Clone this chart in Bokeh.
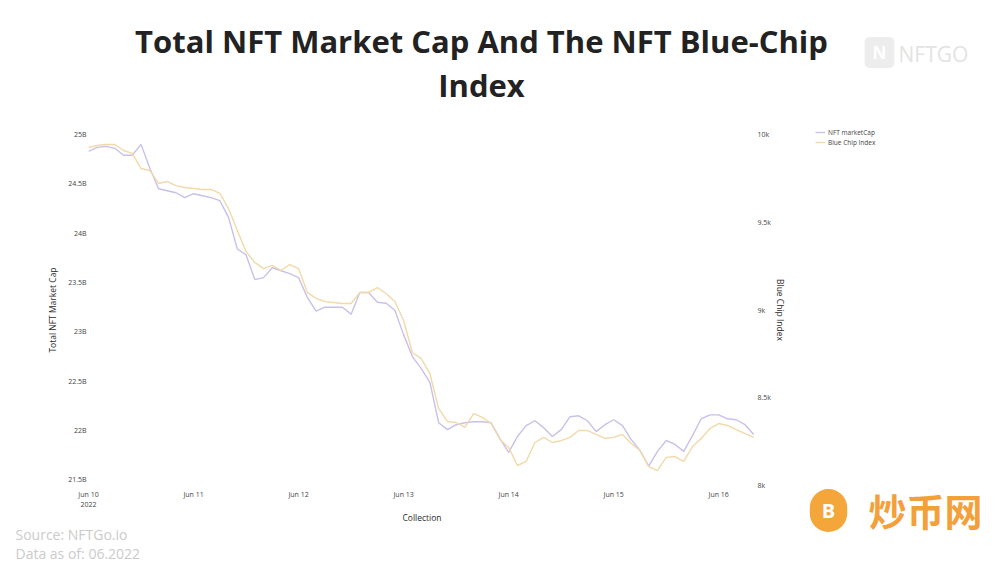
from bokeh.plotting import figure
from bokeh.layouts import column, row
from bokeh.models import (Range1d, LinearAxis, FixedTicker, CustomJSTickFormatter,
                          Label, Legend, LegendItem, Title)
from bokeh.embed import file_html
from bokeh.resources import INLINE

# ---- data -------------------------------------------------------------
hours = list(range(0, 153, 2))  # hours since Jun 10 2022 00:00, 2-hour steps

market_cap_b = [24.83, 24.87, 24.88, 24.86, 24.79, 24.79, 24.90, 24.66, 24.45, 24.43,
                24.41, 24.36, 24.40, 24.38, 24.36, 24.33, 24.16, 23.84, 23.78, 23.53,
                23.55, 23.65, 23.62, 23.59, 23.55, 23.35, 23.21, 23.25, 23.25, 23.25,
                23.18, 23.40, 23.40, 23.30, 23.29, 23.22, 22.97, 22.75, 22.63, 22.49,
                22.08, 22.01, 22.06, 22.08, 22.09, 22.09, 22.08, 21.92, 21.78, 21.94,
                22.05, 22.10, 22.03, 21.94, 22.01, 22.14, 22.15, 22.10, 21.99, 22.06,
                22.11, 22.05, 21.91, 21.80, 21.64, 21.79, 21.90, 21.86, 21.79, 21.95,
                22.12, 22.16, 22.16, 22.12, 22.11, 22.06, 21.96]

blue_chip_index = [9926, 9937, 9943, 9943, 9909, 9892, 9806, 9795, 9721, 9732,
                   9709, 9698, 9692, 9687, 9687, 9664, 9578, 9453, 9333, 9271,
                   9236, 9254, 9225, 9259, 9236, 9100, 9066, 9048, 9043, 9037,
                   9037, 9100, 9100, 9128, 9094, 9048, 8940, 8758, 8724, 8638,
                   8439, 8365, 8359, 8331, 8410, 8388, 8353, 8262, 8217, 8114,
                   8137, 8245, 8274, 8245, 8256, 8274, 8313, 8313, 8291, 8268,
                   8274, 8291, 8239, 8199, 8108, 8085, 8160, 8165, 8137, 8222,
                   8268, 8325, 8353, 8342, 8319, 8296, 8274]

series_names = ["NFT marketCap", "Blue Chip Index"]
x_ticks = [0, 24, 48, 72, 96, 120, 144]
x_tick_labels = ["Jun 10\n2022", "Jun 11", "Jun 12", "Jun 13", "Jun 14", "Jun 15", "Jun 16"]
left_ticks = [21.5, 22, 22.5, 23, 23.5, 24, 24.5, 25]
right_ticks = [8000, 8500, 9000, 9500, 10000]

PURPLE = "#c9c0ea"
ORANGE = "#f1d9a9"
FONT = "Open Sans"


def blank(width, height, x0, x1, y_bottom, y_top):
    f = figure(width=width, height=height, output_backend="svg", toolbar_location=None,
               x_range=Range1d(x0, x1), y_range=Range1d(y_bottom, y_top),
               x_axis_type=None, y_axis_type=None, min_border=0)
    f.outline_line_color = None
    f.grid.visible = False
    return f


def add_label(f, text, x, y, size, color, style="normal", align="left", font=FONT, **kw):
    f.add_layout(Label(text=text, x=x, y=y, text_font=font, text_font_size=size,
                       text_color=color, text_font_style=style, text_align=align,
                       text_baseline="middle", **kw))


# ---- top strip: title + brand ----------------------------------------------
top = blank(984, 126, 0, 984, 126, 0)
add_label(top, "Total NFT Market Cap And The NFT Blue-Chip", 481, 40, "31px", "#222222",
          style="bold", align="center")
add_label(top, "Index", 481, 84, "31px", "#222222", style="bold", align="center")
add_label(top, "N", 879, 52, "17px", "#ffffff", style="bold", align="center",
          background_fill_color="#ededed", padding=(8, 4), border_radius=5)
add_label(top, "NFTGO", 898, 53, "21px", "#e3e3e3")

# ---- main chart ---------------------------------------------------------------
p = figure(width=800, height=440, output_backend="svg", toolbar_location=None,
           x_range=Range1d(0, 152.4), y_range=Range1d(21.444, 25.0),
           min_border_left=88, min_border_right=45, min_border_top=8,
           min_border_bottom=81)
p.outline_line_color = None
p.grid.visible = False

p.extra_y_ranges = {"bci": Range1d(8000, 10000)}

p.line(hours, market_cap_b, line_color=PURPLE, line_width=1.4)
p.line(hours, blue_chip_index, line_color=ORANGE, line_width=1.4, y_range_name="bci")

right_axis = LinearAxis(y_range_name="bci")
p.add_layout(right_axis, "right")


def style_axis(ax):
    ax.axis_line_color = None
    ax.major_tick_line_color = None
    ax.minor_tick_line_color = None
    ax.major_tick_out = 0
    ax.major_tick_in = 0
    ax.minor_tick_out = 0
    ax.minor_tick_in = 0
    ax.major_label_text_font = FONT
    ax.major_label_text_font_size = "7px"
    ax.major_label_text_color = "#444444"
    ax.axis_label_text_font = FONT
    ax.axis_label_text_font_size = "8.5px"
    ax.axis_label_text_font_style = "normal"
    ax.axis_label_text_color = "#2a2a2a"


xa = p.xaxis[0]
style_axis(xa)
xa.ticker = FixedTicker(ticks=x_ticks)
xa.major_label_overrides = {t: lab for t, lab in zip(x_ticks, x_tick_labels)}
xa.major_label_standoff = 4
xa.axis_label = "Collection"
xa.axis_label_standoff = 0

ya = p.yaxis[0]
style_axis(ya)
ya.ticker = FixedTicker(ticks=left_ticks)
ya.formatter = CustomJSTickFormatter(code="return tick + 'B';")
ya.major_label_standoff = 2
ya.axis_label = "Total NFT Market Cap"
ya.axis_label_standoff = 7

style_axis(right_axis)
right_axis.ticker = FixedTicker(ticks=right_ticks)
right_axis.formatter = CustomJSTickFormatter(code="return (tick/1000) + 'k';")
right_axis.major_label_standoff = 2
right_axis.axis_label = "Blue Chip Index"
right_axis.axis_label_standoff = 1
if hasattr(right_axis, "axis_label_orientation"):
    right_axis.axis_label_orientation = "vertical"

# source notes below the x axis
p.add_layout(Title(text="Source: NFTGo.io", align="left", offset=-73, standoff=-8,
                   text_font=FONT, text_font_size="14px", text_font_style="normal",
                   text_color="#cbcbcb"), "below")
p.add_layout(Title(text="Data as of: 06.2022", align="left", offset=-73, standoff=4,
                   text_font=FONT, text_font_size="14px", text_font_style="normal",
                   text_color="#cbcbcb"), "below")

# ---- right strip: legend + watermark ------------------------------------------
side = blank(184, 440, 800, 984, 566, 126)
h1 = side.line(hours, market_cap_b, line_color=PURPLE, line_width=1.4, visible=False)
h2 = side.line(hours, blue_chip_index, line_color=ORANGE, line_width=1.4, visible=False)
legend = Legend(items=[LegendItem(label=series_names[0], renderers=[h1]),
                       LegendItem(label=series_names[1], renderers=[h2])],
                location=(15, 419), orientation="vertical",
                padding=0, margin=0, spacing=0, label_standoff=3,
                glyph_width=10, glyph_height=10, label_height=10,
                label_text_font=FONT, label_text_font_size="6.5px",
                label_text_color="#444444", border_line_color=None,
                background_fill_alpha=0)
side.add_layout(legend, "center")
add_label(side, "B", 828, 510, "20px", "#ffffff", style="bold", align="center",
          background_fill_color="#f5a63a", padding=(12, 8), border_radius=20)
add_label(side, "炒币网", 868, 509, "38px", "#f4a03a", style="bold",
          font="Noto Sans CJK SC")

layout = column(top, row(column(p), side))
open("out.html", "w").write(file_html(layout, INLINE))
